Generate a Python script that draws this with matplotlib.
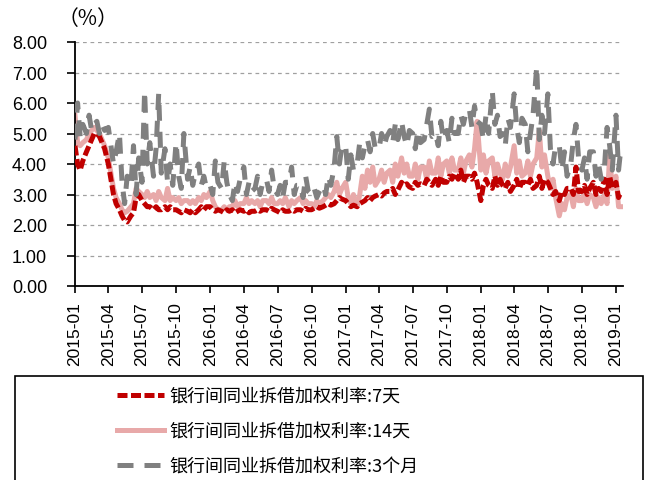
import matplotlib
matplotlib.use("Agg")
import matplotlib.pyplot as plt
import matplotlib.dates as mdates
from matplotlib.patches import Rectangle
import pandas as pd

plt.rcParams['font.family'] = ['Liberation Sans', 'Noto Sans CJK SC', 'DejaVu Sans']

days = [1, 8, 15, 22]
months = ['2015-01', '2015-02', '2015-03', '2015-04', '2015-05', '2015-06',
          '2015-07', '2015-08', '2015-09', '2015-10', '2015-11', '2015-12',
          '2016-01', '2016-02', '2016-03', '2016-04', '2016-05', '2016-06',
          '2016-07', '2016-08', '2016-09', '2016-10', '2016-11', '2016-12',
          '2017-01', '2017-02', '2017-03', '2017-04', '2017-05', '2017-06',
          '2017-07', '2017-08', '2017-09', '2017-10', '2017-11', '2017-12',
          '2018-01', '2018-02', '2018-03', '2018-04', '2018-05', '2018-06',
          '2018-07', '2018-08', '2018-09', '2018-10', '2018-11', '2018-12',
          '2019-01']

# 银行间同业拆借加权利率:7天
rate_7d = [
    [4.6, 4.0, 3.8, 4.1], [4.4, 4.6, 4.8, 5.0], [5.0, 4.9, 4.7, 4.5], [4.0, 3.5, 3.0, 2.7],
    [2.5, 2.3, 2.15, 2.1], [2.3, 2.4, 2.9, 3.0], [2.8, 2.7, 2.6, 2.6], [2.5, 2.6, 2.5, 2.5],
    [2.6, 2.5, 2.6, 2.5], [2.5, 2.45, 2.4, 2.5], [2.45, 2.4, 2.5, 2.4], [2.5, 2.6, 2.5, 2.6],
    [2.6, 2.5, 2.45, 2.5], [2.45, 2.4, 2.5, 2.45], [2.5, 2.4, 2.45, 2.5], [2.45, 2.5, 2.4, 2.45],
    [2.45, 2.5, 2.45, 2.5], [2.5, 2.45, 2.55, 2.5], [2.45, 2.4, 2.5, 2.45], [2.45, 2.5, 2.45, 2.5],
    [2.5, 2.45, 2.55, 2.5], [2.5, 2.55, 2.6, 2.55], [2.6, 2.65, 2.7, 2.65], [2.7, 2.8, 2.9, 2.85],
    [2.8, 2.7, 2.6, 2.65], [2.6, 2.7, 2.75, 2.8], [2.9, 2.8, 2.9, 2.95], [3.0, 2.95, 3.05, 3.1],
    [3.1, 3.2, 3.0, 3.15], [3.4, 3.3, 3.35, 3.25], [3.2, 3.4, 3.3, 3.35], [3.3, 3.5, 3.4, 3.3],
    [3.5, 3.3, 3.6, 3.4], [3.4, 3.6, 3.5, 3.7], [3.5, 3.8, 3.4, 3.6], [3.6, 3.5, 3.7, 3.4],
    [2.8, 3.3, 3.5, 3.3], [3.2, 3.6, 3.3, 3.5], [3.3, 3.2, 3.4, 3.1], [3.3, 3.5, 3.2, 3.4],
    [3.4, 3.3, 3.5, 3.2], [3.3, 3.6, 3.2, 3.5], [3.4, 3.2, 3.0, 3.1], [2.8, 3.1, 3.0, 3.2],
    [3.2, 3.0, 3.9, 3.1], [3.1, 3.3, 3.0, 3.2], [3.4, 3.0, 3.2, 3.1], [3.5, 3.0, 3.6, 3.2],
    [3.4, 2.9, 3.1],
]

# 银行间同业拆借加权利率:14天
rate_14d = [
    [5.6, 4.7, 4.6, 4.7], [4.8, 5.0, 5.1, 5.2], [5.1, 5.0, 4.8, 4.6], [4.2, 3.7, 3.2, 2.9],
    [2.7, 2.5, 2.4, 2.45], [2.6, 2.7, 3.2, 3.1], [3.0, 2.9, 3.1, 2.9], [3.0, 2.8, 3.1, 2.9],
    [2.8, 3.2, 2.8, 2.9], [2.8, 2.9, 2.7, 2.8], [2.8, 2.7, 2.8, 2.7], [2.9, 2.8, 3.0, 2.9],
    [3.1, 2.8, 2.6, 2.5], [2.5, 2.6, 2.5, 2.6], [2.6, 2.8, 2.6, 2.7], [2.7, 2.9, 2.7, 2.8],
    [2.7, 2.8, 2.6, 2.8], [2.8, 2.7, 2.9, 2.7], [2.7, 2.8, 2.7, 2.9], [2.6, 2.8, 2.7, 2.8],
    [2.9, 2.7, 2.8, 2.7], [2.7, 2.6, 2.8, 2.7], [2.8, 2.9, 3.0, 2.9], [3.1, 3.4, 3.0, 3.2],
    [3.4, 2.9, 2.7, 3.0], [2.6, 3.0, 3.6, 3.2], [3.8, 3.4, 3.9, 3.3], [3.5, 3.8, 3.4, 3.7],
    [3.8, 3.4, 4.0, 3.6], [4.2, 3.7, 4.0, 3.6], [3.6, 4.0, 3.5, 3.9], [3.9, 3.5, 4.1, 3.7],
    [3.7, 4.2, 3.6, 4.0], [4.1, 3.7, 4.2, 3.8], [3.8, 4.2, 3.7, 4.1], [4.3, 3.9, 4.5, 5.4],
    [3.8, 4.3, 3.7, 4.1], [4.2, 3.6, 4.0, 3.7], [3.5, 4.0, 3.6, 3.9], [4.6, 3.7, 4.1, 3.6],
    [3.7, 4.1, 3.6, 4.0], [4.2, 5.1, 3.9, 4.3], [3.6, 3.2, 3.5, 2.9], [2.3, 2.7, 2.5, 2.9],
    [3.0, 2.6, 3.2, 2.8], [2.8, 3.1, 2.7, 3.0], [2.9, 2.6, 2.9, 2.7], [3.0, 2.7, 4.3, 3.2],
    [3.6, 2.6, 2.6],
]

# 银行间同业拆借加权利率:3个月
rate_3m = [
    [4.8, 6.0, 4.9, 5.3], [5.0, 5.6, 5.1, 5.3], [5.4, 5.0, 5.3, 5.1], [5.2, 4.6, 4.0, 4.4],
    [5.0, 3.4, 2.7, 3.6], [3.3, 4.6, 3.0, 4.2], [3.4, 6.4, 4.0, 4.7], [3.6, 4.5, 6.3, 3.7],
    [4.5, 3.4, 4.0, 3.3], [4.7, 3.6, 3.2, 5.0], [3.5, 3.9, 3.3, 3.7], [4.0, 3.3, 3.6, 3.2],
    [3.3, 3.0, 4.1, 3.4], [3.2, 4.1, 3.4, 3.0], [2.8, 3.4, 3.1, 3.5], [3.9, 3.0, 3.4, 3.1],
    [3.2, 3.6, 3.0, 3.4], [3.5, 3.1, 3.8, 3.2], [3.0, 3.3, 2.9, 3.4], [3.4, 3.9, 3.0, 3.3],
    [3.3, 2.9, 3.6, 3.1], [3.0, 3.2, 2.9, 3.1], [3.3, 3.0, 3.6, 3.3], [3.9, 4.9, 4.0, 4.6],
    [4.6, 3.5, 4.3, 3.8], [4.0, 4.7, 4.2, 4.6], [4.8, 4.4, 5.0, 4.5], [4.5, 5.0, 4.6, 4.9],
    [5.1, 4.7, 5.3, 4.8], [5.4, 4.9, 4.6, 5.1], [5.0, 4.5, 5.1, 4.7], [4.8, 5.3, 5.8, 4.9],
    [5.0, 4.6, 5.4, 4.8], [5.1, 4.7, 5.5, 5.0], [5.0, 5.6, 5.3, 5.7], [5.8, 5.2, 5.9, 5.4],
    [5.3, 4.8, 5.6, 5.0], [6.4, 5.3, 5.6, 4.9], [5.0, 4.6, 5.5, 5.2], [6.3, 5.2, 4.7, 5.5],
    [5.3, 4.4, 5.0, 5.6], [7.2, 4.8, 5.6, 5.0], [6.3, 4.5, 4.0, 4.6], [4.6, 3.8, 4.4, 3.6],
    [4.0, 4.8, 5.3, 4.2], [3.8, 4.2, 3.5, 4.4], [4.4, 3.6, 4.0, 3.5], [3.9, 5.2, 4.6, 3.8],
    [5.6, 3.8, 4.6],
]

labels = ['银行间同业拆借加权利率:7天', '银行间同业拆借加权利率:14天',
          '银行间同业拆借加权利率:3个月']


def to_series(rows):
    xs, ys = [], []
    for m, row in zip(months, rows):
        for d, v in zip(days, row):
            xs.append(pd.Timestamp(f'{m}-{d:02d}'))
            ys.append(v)
    return xs, ys


x7, y7 = to_series(rate_7d)
x14, y14 = to_series(rate_14d)
x3m, y3m = to_series(rate_3m)

fig = plt.figure(figsize=(6.48, 4.81), dpi=100)
ax = fig.add_axes([75 / 648, 1 - 287 / 481, 548 / 648, 244 / 481])

l14, = ax.plot(x14, y14, color='#E8A9A9', lw=3.6, zorder=2)
l7, = ax.plot(x7, y7, color='#C00000', lw=3.6, dashes=(2.0, 0.7), zorder=3)
l3m, = ax.plot(x3m, y3m, color='#808080', lw=3.6, dashes=(3.2, 2.2), zorder=4)

ax.set_ylim(0, 8)
ax.set_xlim(pd.Timestamp('2015-01-01'), pd.Timestamp('2019-01-20'))
ax.set_yticks(range(0, 9))
ax.yaxis.set_major_formatter(plt.FuncFormatter(lambda v, p: f'{v:.2f}'))
ax.xaxis.set_major_locator(mdates.MonthLocator(bymonth=[1, 4, 7, 10]))
ax.xaxis.set_major_formatter(mdates.DateFormatter('%Y-%m'))
ax.tick_params(axis='x', rotation=90, labelsize=12.5, length=5, direction='out', width=1.2, pad=6)
ax.tick_params(axis='y', labelsize=13, length=6, direction='out', width=1.2, pad=14)

ax.grid(axis='y', color='#A0A0A0', ls=(0, (3, 3)), lw=0.9)
ax.set_axisbelow(True)
for side in ['top', 'right']:
    ax.spines[side].set_visible(False)
for side in ['left', 'bottom']:
    ax.spines[side].set_linewidth(1.3)
    ax.spines[side].set_color('black')

fig.text(58 / 648, 1 - 19 / 481, '（%）', fontsize=15, va='center', ha='left',
         family=['Noto Sans CJK SC', 'DejaVu Sans'])

# legend box, cut by the bottom edge of the picture
fig.patches.append(Rectangle((15 / 648, -0.01), 628 / 648, 1 - 377 / 481 + 0.01,
                             transform=fig.transFigure, fill=False,
                             edgecolor='black', lw=1.2))
fig.legend([l7, l14, l3m], labels, loc='upper left',
           bbox_to_anchor=(101 / 648, 1 - 372 / 481), frameon=False,
           prop={'family': ['Noto Sans CJK SC', 'DejaVu Sans'], 'size': 13.0},
           handlelength=2.6, handletextpad=0.3, labelspacing=0.95)

fig.savefig('out.png', dpi=100)
